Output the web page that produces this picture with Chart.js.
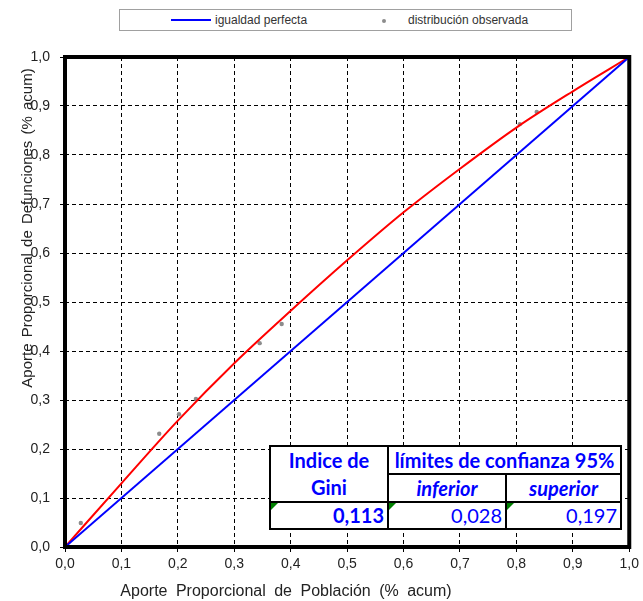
<!DOCTYPE html>
<html>
<head>
<meta charset="utf-8">
<script src="https://cdn.jsdelivr.net/npm/chart.js@4.4.1/dist/chart.umd.min.js"></script>
<style>
  body { margin: 0; background: #fff; }
  .wrap { position: relative; width: 643px; height: 601px; }
  #myChart { position: absolute; left: 0; top: 0; }
  .legend {
    position: absolute; left: 119px; top: 9px; width: 451px; height: 20px;
    border: 1px solid #a0a0a0; background: #fff;
    font: 12px "Liberation Sans", Arial, sans-serif; color: #333;
  }
  .legend span { position: absolute; top: 3px; }
  .legend .line { position: absolute; left: 51px; top: 9px; width: 40px; height: 2px; background: #0000ff; }
  .legend .dot { position: absolute; left: 262px; top: 9px; width: 4px; height: 4px; border-radius: 50%; background: #8c8c8c; }
  table.gini {
    position: absolute; left: 269px; top: 445px; border-collapse: collapse;
    background: #fff; font-family: Lato, "Open Sans", sans-serif; font-size: 20px; color: #0000ff;
  }
  table.gini td { border: 2px solid #000; padding: 0 3px; height: 25px; line-height: 25px; text-align: center; font-weight: bold; white-space: nowrap; }
  table.gini td.num { text-align: right; font-weight: normal; position: relative; }
  table.gini td.num.b { font-weight: bold; }
  table.gini td.num::before {
    content: ""; position: absolute; left: 0; top: 0; width: 0; height: 0;
    border-top: 7px solid #008000; border-right: 7px solid transparent;
  }
  table.gini td.it { font-style: italic; }
</style>
</head>
<body>
<div class="wrap">
  <canvas id="myChart" width="643" height="601"></canvas>
  <div class="legend">
    <div class="line"></div><span style="left:95px">igualdad perfecta</span>
    <div class="dot"></div><span style="left:288px">distribución observada</span>
  </div>
  <table class="gini">
    <tr><td rowspan="2" style="width:110px;line-height:27px">Indice de<br>Gini</td><td colspan="2">límites de confianza 95%</td></tr>
    <tr><td class="it" style="width:110px">inferior</td><td class="it" style="width:107px">superior</td></tr>
    <tr><td class="num b">0,113</td><td class="num">0,028</td><td class="num">0,197</td></tr>
  </table>
</div>
<script>
// igualdad perfecta
const equalX = [0, 1];
const equalY = [0, 1];

// curva ajustada (roja)
const curveX = [0, 0.1, 0.2, 0.3, 0.4, 0.5, 0.6, 0.7, 0.8, 0.9, 1.0];
const curveY = [0, 0.13, 0.258, 0.375, 0.482, 0.585, 0.683, 0.772, 0.856, 0.93, 1.0];

// distribución observada
const obsX = [0, 0.028, 0.167, 0.202, 0.232, 0.345, 0.384, 0.806, 0.836, 1];
const obsY = [0, 0.049, 0.231, 0.271, 0.302, 0.416, 0.455, 0.863, 0.888, 1];

const xTitle = "Aporte Proporcional de Población (% acum)";
const yTitle = "Aporte Proporcional de Defunciones (% acum)";

const toPoints = (xs, ys) => xs.map((x, i) => ({ x: x, y: ys[i] }));
const fmt = (v) => (Math.round(v * 10) / 10).toFixed(1).replace(".", ",");

const frame = {
  id: "frame",
  afterDraw(chart) {
    const { ctx, chartArea: a } = chart;
    ctx.save();
    ctx.strokeStyle = "#000";
    ctx.lineWidth = 4;
    ctx.strokeRect(a.left, a.top, a.right - a.left, a.bottom - a.top);
    ctx.fillStyle = "#222";
    ctx.font = "16px 'Liberation Sans', Arial, sans-serif";
    ctx.wordSpacing = "4px";
    ctx.textAlign = "center";
    ctx.textBaseline = "middle";
    ctx.fillText(xTitle, 286, 592);
    ctx.font = "15px 'Liberation Sans', Arial, sans-serif";
    ctx.wordSpacing = "2px";
    ctx.translate(28, 228);
    ctx.rotate(-Math.PI / 2);
    ctx.fillText(yTitle, 0, 0);
    ctx.restore();
  },
};

const tickFont = { family: "'Liberation Sans', Arial, sans-serif", size: 14 };

const config = {
  type: "scatter",
  data: {
    datasets: [
      {
        label: "igualdad perfecta",
        data: toPoints(equalX, equalY),
        showLine: true,
        borderColor: "#0000ff",
        borderWidth: 2,
        pointRadius: 0,
      },
      {
        label: "ajuste",
        data: toPoints(curveX, curveY),
        showLine: true,
        borderColor: "#ff0000",
        borderWidth: 2,
        pointRadius: 0,
        cubicInterpolationMode: "monotone",
      },
      {
        label: "distribución observada",
        data: toPoints(obsX, obsY),
        backgroundColor: "#8c8c8c",
        borderWidth: 0,
        pointRadius: 2.2,
      },
    ],
  },
  options: {
    responsive: false,
    animation: false,
    layout: { padding: { top: 57, right: 10, left: 0, bottom: 0 } },
    plugins: { legend: { display: false }, tooltip: { enabled: false } },
    scales: {
      x: {
        min: 0,
        max: 1,
        afterFit: (s) => { s.height = 54; },
        ticks: { stepSize: 0.1, callback: fmt, color: "#222", font: tickFont, padding: 4, maxRotation: 0 },
        grid: { color: "#000", lineWidth: 1, tickLength: 5, tickColor: "#000" },
        border: { display: false, dash: [4, 3] },
      },
      y: {
        min: 0,
        max: 1,
        afterFit: (s) => { s.width = 65; },
        ticks: { stepSize: 0.1, callback: fmt, color: "#222", font: tickFont, padding: 10 },
        grid: { color: "#000", lineWidth: 1, tickLength: 5, tickColor: "#000" },
        border: { display: false, dash: [4, 3] },
      },
    },
  },
  plugins: [frame],
};

let myChart = new Chart(document.getElementById("myChart"), config);
</script>
</body>
</html>
